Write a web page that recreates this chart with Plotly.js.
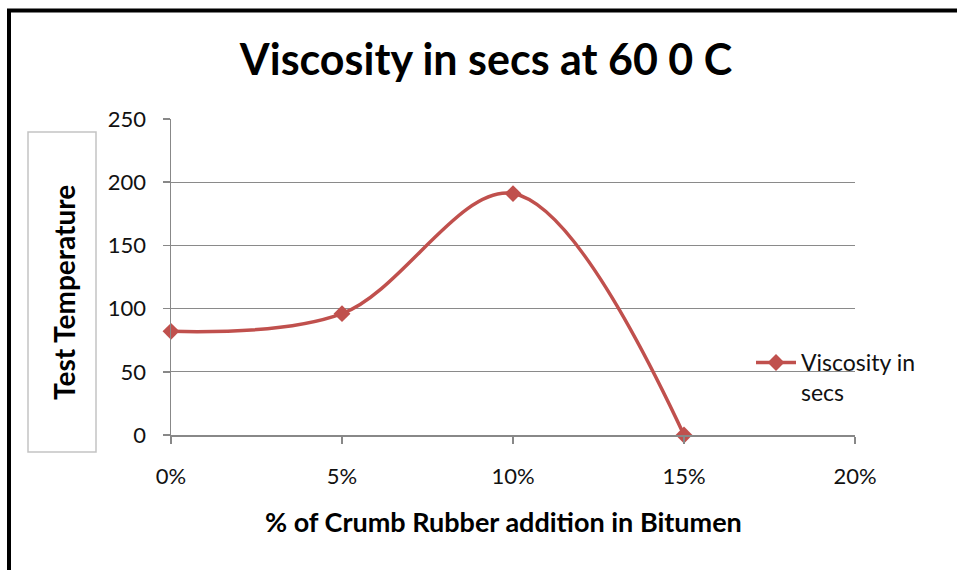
<!DOCTYPE html>
<html>
<head>
<meta charset="utf-8">
<script src="https://cdn.plot.ly/plotly-3.0.1.min.js"></script>
<style>
html,body{margin:0;padding:0;background:#fff;}
#chart{width:957px;height:570px;}
</style>
</head>
<body>
<div id="chart"></div>
<script>
// Data
const categories = [0, 0.05, 0.10, 0.15];
const viscosity = [82, 96, 191, 0];
const seriesName = "Viscosity in<br>secs";
const xTickVals = [0, 0.05, 0.10, 0.15, 0.20];
const xTickText = ["0%", "5%", "10%", "15%", "20%"];
const yTickVals = [0, 50, 100, 150, 200, 250];
const titleText = "Viscosity in secs at 60 0 C";
const xTitle = "% of Crumb Rubber addition in Bitumen";
const yTitle = "Test Temperature";

// layout geometry (pixels)
const W = 957, H = 570;
const L = 171, R = 855, T = 119, B = 435;
const pw = R - L, ph = B - T;
const px = v => (v - L) / pw;
const py = v => (B - v) / ph;

const FONT = "Lato, 'Open Sans', sans-serif";

const trace = {
  x: categories,
  y: viscosity,
  type: "scatter",
  mode: "lines+markers",
  name: seriesName,
  line: {color: "#C0504D", width: 3.5, shape: "spline", smoothing: 1},
  marker: {symbol: "diamond", size: 13, color: "#C0504D"},
  cliponaxis: false
};

const layout = {
  width: W, height: H,
  margin: {l: L, r: W - R, t: T, b: H - B, pad: 0},
  paper_bgcolor: "#fff",
  plot_bgcolor: "#fff",
  showlegend: true,
  font: {family: FONT, color: "#111"},
  title: {
    text: "<b>" + titleText + "</b>",
    font: {family: FONT, size: 43, color: "#000"},
    x: 486 / W, xref: "container", xanchor: "center",
    y: 1 - 60 / H, yref: "container", yanchor: "middle"
  },
  xaxis: {
    range: [0, 0.20],
    tickvals: xTickVals,
    ticktext: xTickText,
    showgrid: false,
    zeroline: false,
    showline: true, linecolor: "#888", linewidth: 1.5,
    ticks: "outside", ticklen: 7, tickcolor: "#888", tickwidth: 1.5,
    ticklabelstandoff: 14,
    tickfont: {family: FONT, size: 22, color: "#111"},
    title: {text: ""},
    fixedrange: true
  },
  yaxis: {
    range: [0, 250],
    tickvals: yTickVals,
    showgrid: true, gridcolor: "#8a8a8a", gridwidth: 1.2,
    zeroline: false,
    showline: true, linecolor: "#888", linewidth: 1.5,
    ticks: "outside", ticklen: 7, tickcolor: "#888", tickwidth: 1.5,
    ticklabelstandoff: 12,
    tickfont: {family: FONT, size: 22, color: "#111"},
    title: {text: ""},
    fixedrange: true
  },
  legend: {
    x: px(751), y: py(341), xanchor: "left", yanchor: "top",
    bgcolor: "rgba(0,0,0,0)",
    font: {family: FONT, size: 23, color: "#111"},
    valign: "top",
    itemwidth: 40
  },
  shapes: [
    // y-axis title box
    {type: "rect", xref: "paper", yref: "paper",
     x0: px(28), x1: px(96), y0: py(452), y1: py(132),
     line: {color: "#c3c3c3", width: 1.5}, fillcolor: "rgba(0,0,0,0)"},
    // outer frame (top and left)
    {type: "line", xref: "paper", yref: "paper",
     x0: px(9), x1: px(9), y0: py(575), y1: py(10.5),
     line: {color: "#000", width: 4}},
    {type: "line", xref: "paper", yref: "paper",
     x0: px(7), x1: px(962), y0: py(10.5), y1: py(10.5),
     line: {color: "#000", width: 4}}
  ],
  annotations: [
    {text: "<b>" + yTitle + "</b>", xref: "paper", yref: "paper",
     x: px(64), y: py(293), xanchor: "center", yanchor: "middle",
     textangle: -90, showarrow: false,
     font: {family: FONT, size: 28, color: "#000"}},
    {text: "<b>" + xTitle + "</b>", xref: "paper", yref: "paper",
     x: px(503), y: py(521), xanchor: "center", yanchor: "middle",
     showarrow: false,
     font: {family: FONT, size: 27, color: "#000"}}
  ]
};

Plotly.newPlot("chart", [trace], layout, {displayModeBar: false, staticPlot: true});
</script>
</body>
</html>
